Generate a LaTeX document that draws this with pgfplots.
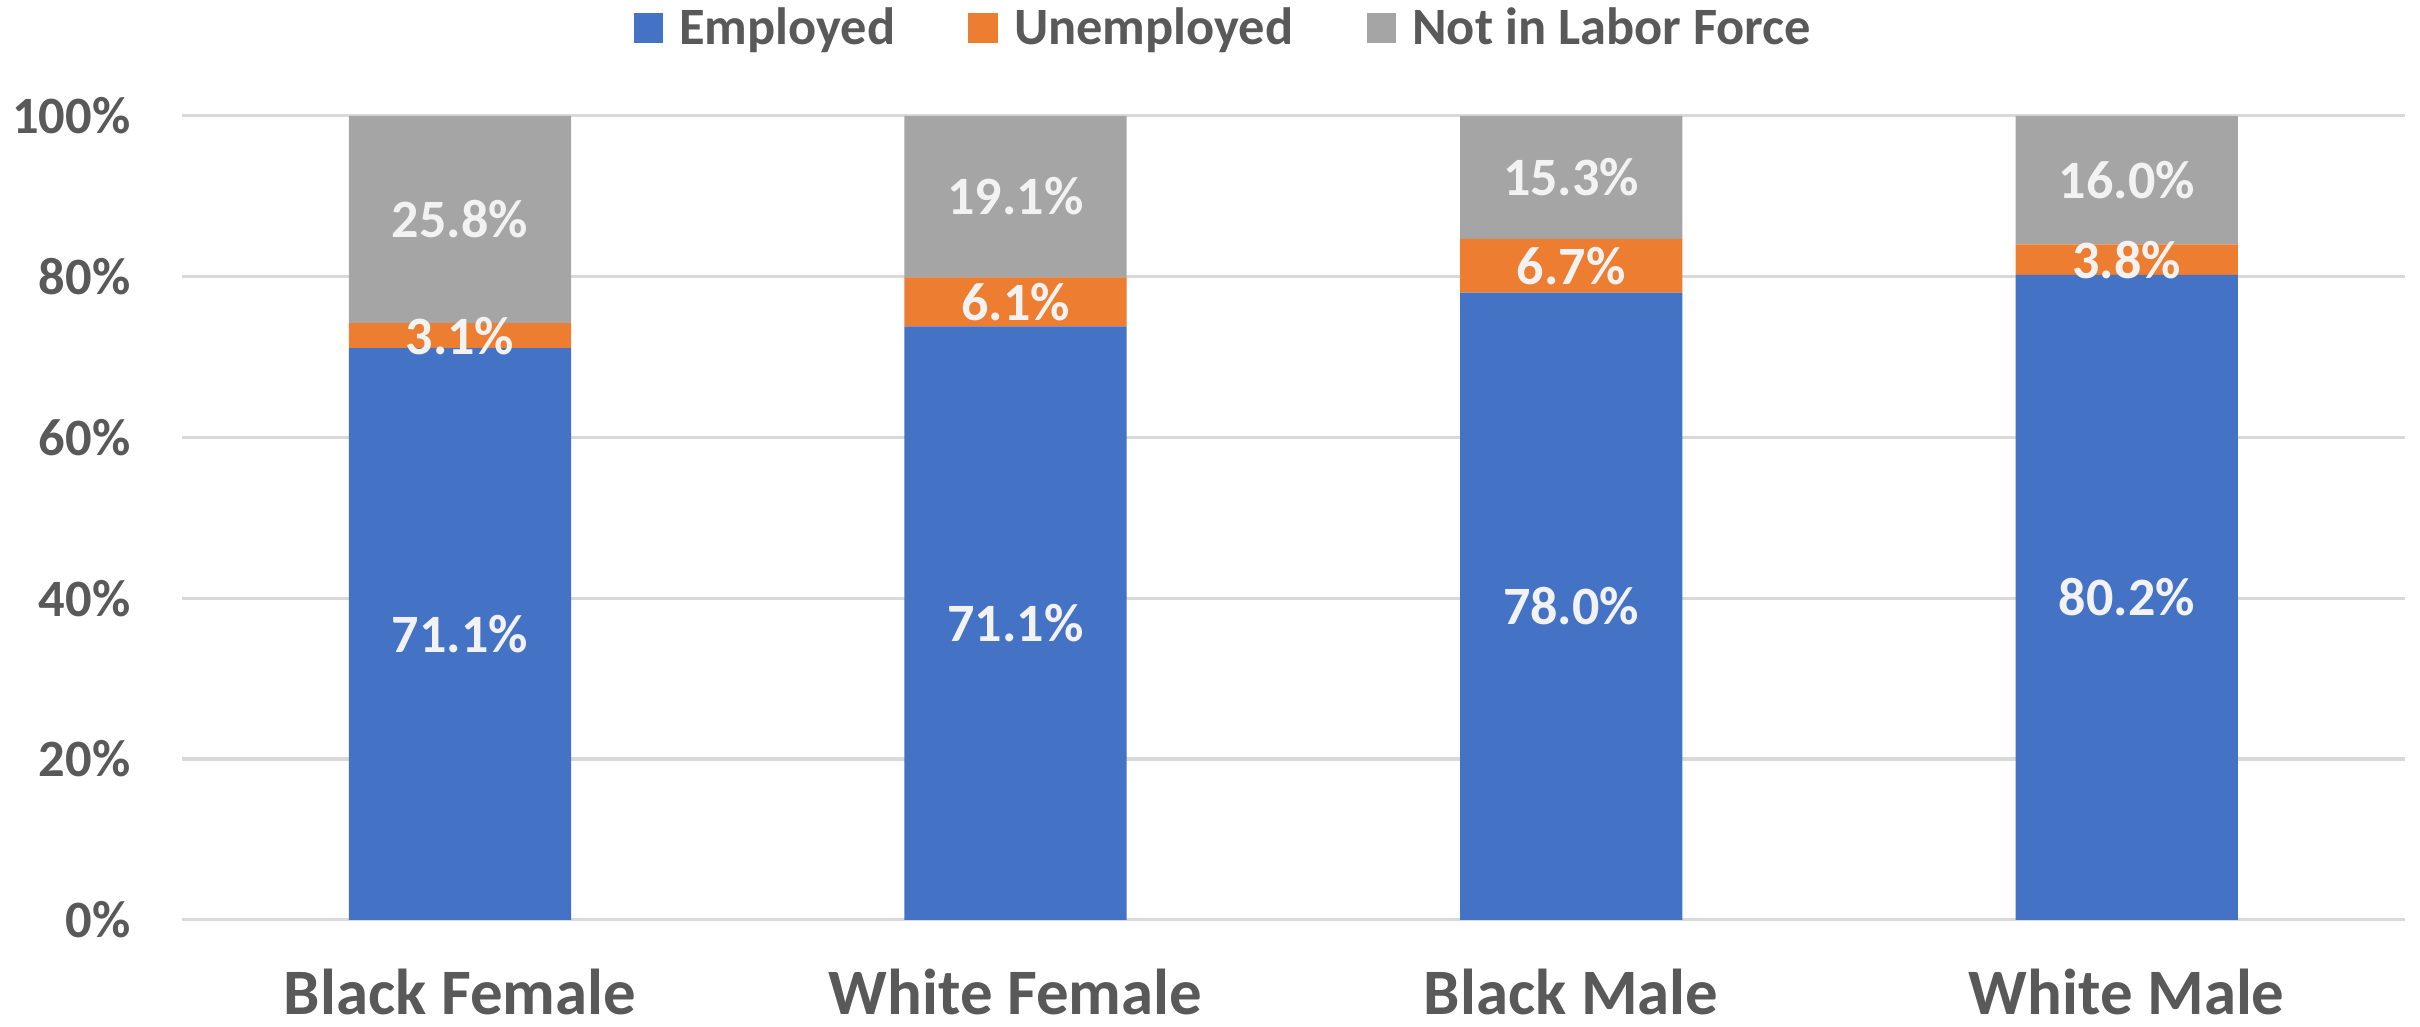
\documentclass[border=0pt]{standalone}
\usepackage{fontspec}
\setmainfont{Carlito}
\usepackage{pgfplots}
\pgfplotsset{compat=1.18}

\definecolor{cEmp}{HTML}{4472C4}
\definecolor{cUne}{HTML}{ED7D31}
\definecolor{cNot}{HTML}{A5A5A5}
\definecolor{txtgray}{HTML}{595959}
\definecolor{gridgray}{HTML}{D9D9D9}
\definecolor{lblwhite}{HTML}{F2F2F2}

\pgfplotsset{
  frame/.style={
    at={(0,0)}, anchor=south west,
    scale only axis, width=720pt, height=260.5pt,
    xmin=-0.5, xmax=3.5, ymin=0, ymax=100,
    clip=false,
  }
}

% bar heights
\pgfplotstableread{
x emp une not
0 71.1 3.1 25.8
1 73.8 6.1 20.1
2 78.0 6.7 15.3
3 80.2 3.8 16.0
}\shares

\begin{document}
\begin{tikzpicture}
\path[use as bounding box] (-59pt,-34.5pt) rectangle (725pt,298pt);
\begin{axis}[
    frame,
    ybar stacked, bar width=72pt,
    xtick={0,1,2,3},
    xticklabels={Black Female,White Female,Black Male,White Male},
    ytick={0,20,...,100},
    yticklabels={0\%,20\%,40\%,60\%,80\%,100\%},
    ymajorgrids, grid style={draw=gridgray, line width=1pt},
    axis line style={draw=none}, major tick length=0pt,
    tick label style={text=txtgray, inner sep=0pt},
    yticklabel style={font=\fontsize{17}{17}\selectfont\bfseries, anchor=east, xshift=-16.6pt},
    xticklabel style={font=\fontsize{21}{21}\selectfont\bfseries, anchor=base, yshift=-30.5pt},
    legend style={at={(0.468,1.109)}, anchor=center, draw=none, fill=none,
        legend columns=3, font=\fontsize{17}{17}\selectfont\bfseries, text=txtgray,
        nodes={inner sep=0pt},
        /tikz/every odd column/.append style={column sep=5.3pt},
        /tikz/every even column/.append style={column sep=23.7pt}},
    legend image code/.code={\fill[#1] (0pt,-4.75pt) rectangle (9.5pt,4.75pt);},
]
\addplot[fill=cEmp, draw=none] table[x=x, y=emp] {\shares};
\addplot[fill=cUne, draw=none] table[x=x, y=une] {\shares};
\addplot[fill=cNot, draw=none] table[x=x, y=not] {\shares};
\legend{Employed,Unemployed,Not in Labor Force}
\end{axis}

% data labels, placed at the middle of each segment
\begin{axis}[
    frame, hide axis,
    point meta=explicit symbolic,
    nodes near coords,
    every node near coord/.append style={anchor=center,
        font=\fontsize{17.5}{17.5}\selectfont\bfseries, text=lblwhite},
]
\addplot[draw=none, mark=none] coordinates {
    (0,35.55) [71.1\%]
    (1,36.9)  [71.1\%]
    (2,39.0)  [78.0\%]
    (3,40.1)  [80.2\%]
};
\addplot[draw=none, mark=none] coordinates {
    (0,72.65) [3.1\%]
    (1,76.85) [6.1\%]
    (2,81.35) [6.7\%]
    (3,82.1)  [3.8\%]
};
\addplot[draw=none, mark=none] coordinates {
    (0,87.1)  [25.8\%]
    (1,89.95) [19.1\%]
    (2,92.35) [15.3\%]
    (3,92.0)  [16.0\%]
};
\end{axis}
\end{tikzpicture}
\end{document}
